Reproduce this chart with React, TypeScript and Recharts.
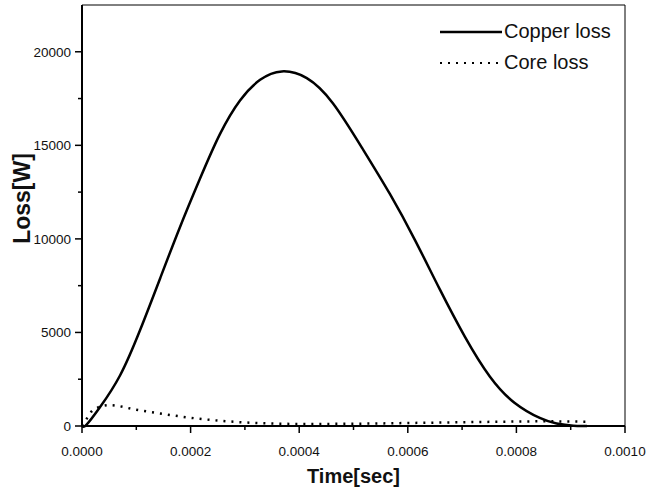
import { LineChart, Line, XAxis, YAxis, ReferenceLine } from "recharts";

// copper loss curve (time in seconds, loss in W)
const copperTime = [0, 0.000008, 0.000033, 0.00007, 0.000107, 0.000144, 0.00018, 0.000217, 0.000254, 0.000291, 0.000328, 0.000368, 0.000414, 0.000462, 0.000516, 0.000567, 0.000613, 0.000659, 0.000705, 0.000751, 0.000797, 0.000843, 0.000874, 0.000905, 0.00093];
const copperLoss = [0, 60, 1000, 2700, 5130, 7900, 10600, 13200, 15600, 17400, 18500, 18950, 18590, 17250, 14850, 12400, 9950, 7300, 4780, 2650, 1230, 430, 130, 10, 0];

// core loss curve
const coreTime = [0, 0.00001, 0.00002, 0.00005, 0.0001, 0.00015, 0.0002, 0.00025, 0.0003, 0.00035, 0.0004, 0.0005, 0.0006, 0.0007, 0.0008, 0.00085, 0.0009, 0.00093];
const coreLoss = [0, 450, 850, 1120, 870, 640, 440, 290, 190, 130, 110, 120, 160, 200, 240, 250, 240, 230];

const xTicks = [0, 0.0001, 0.0002, 0.0003, 0.0004, 0.0005, 0.0006, 0.0007, 0.0008, 0.0009, 0.001];
const yTicks = [0, 2500, 5000, 7500, 10000, 12500, 15000, 17500, 20000];

const copperData = copperTime.map((t, i) => ({ t, v: copperLoss[i] }));
const coreData = coreTime.map((t, i) => ({ t, v: coreLoss[i] }));

const FONT = "'Liberation Sans', Arial, sans-serif";

function XTick(props: any) {
  const { x, y, payload } = props;
  const major = Math.round(payload.value * 10000) % 2 === 0;
  return (
    <g>
      <line x1={x} x2={x} y1={y} y2={y + (major ? 7 : 4)} stroke="#000" strokeWidth={1.5} />
      {major && (
        <text x={x} y={y + 30} textAnchor="middle" fontSize={13.5} fontFamily={FONT} fill="#111">
          {payload.value.toFixed(4)}
        </text>
      )}
    </g>
  );
}

function YTick(props: any) {
  const { x, y, payload } = props;
  const major = payload.value % 5000 === 0;
  return (
    <g>
      <line x1={x - (major ? 7 : 4)} x2={x} y1={y} y2={y} stroke="#000" strokeWidth={1.5} />
      {major && (
        <text x={x - 11} y={y + 5} textAnchor="end" fontSize={13.5} fontFamily={FONT} fill="#111">
          {payload.value}
        </text>
      )}
    </g>
  );
}

function YLabel(props: any) {
  const vb = props.viewBox;
  const cx = vb.x + 22;
  const cy = vb.y + vb.height / 2 - 17;
  return (
    <text x={cx} y={cy} transform={`rotate(-90 ${cx} ${cy})`} textAnchor="middle" dominantBaseline="central"
      fontSize={23} fontWeight="bold" fontFamily={FONT} fill="#111">
      Loss[W]
    </text>
  );
}

function LegendBox() {
  const row = { display: "flex", alignItems: "center", height: 31, fontSize: 20, fontFamily: FONT, color: "#111" };
  return (
    <div style={{ position: "absolute", left: 440, top: 16 }}>
      <div style={row}>
        <svg width={64} height={10}><line x1={0} x2={62} y1={5} y2={5} stroke="#000" strokeWidth={2.5} /></svg>
        <span>Copper loss</span>
      </div>
      <div style={row}>
        <svg width={64} height={10}><line x1={0} x2={60} y1={5} y2={5} stroke="#000" strokeWidth={2} strokeDasharray="2 6" /></svg>
        <span>Core loss</span>
      </div>
    </div>
  );
}

export default function App() {
  return (
    <div style={{ position: "absolute", left: 0, top: 0, width: 659, height: 491, background: "#fff" }}>
      <LineChart width={659} height={491} margin={{ top: 5, right: 34, bottom: 0, left: 0 }}>
        <XAxis type="number" dataKey="t" domain={[0, 0.001]} ticks={xTicks} interval={0} height={65}
          axisLine={{ stroke: "#000", strokeWidth: 2 }} tickLine={false} tickSize={0} tickMargin={0} tick={<XTick />}
          label={{ value: "Time[sec]", position: "insideBottom", offset: 8, fontSize: 20, fontWeight: "bold", fontFamily: FONT, fill: "#111" }} />
        <YAxis type="number" dataKey="v" domain={[0, 22500]} ticks={yTicks} interval={0} width={82}
          axisLine={{ stroke: "#000", strokeWidth: 2 }} tickLine={false} tickSize={0} tickMargin={0} tick={<YTick />}
          label={<YLabel />} />
        <ReferenceLine y={22500} stroke="#000" strokeWidth={1} />
        <ReferenceLine x={0.001} stroke="#000" strokeWidth={1} />
        <Line data={copperData} dataKey="v" type="natural" stroke="#000" strokeWidth={2.5} dot={false} isAnimationActive={false} name="Copper loss" />
        <Line data={coreData} dataKey="v" type="monotone" stroke="#000" strokeWidth={2.5} strokeDasharray="2 6" dot={false} isAnimationActive={false} name="Core loss" />
      </LineChart>
      <LegendBox />
    </div>
  );
}
